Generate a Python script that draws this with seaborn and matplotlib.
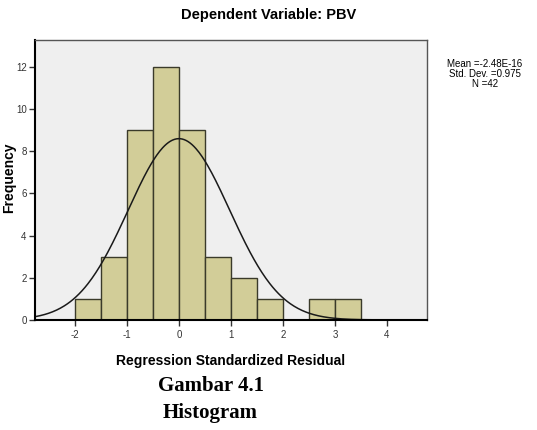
import numpy as np
import pandas as pd
import matplotlib
matplotlib.use('Agg')
import matplotlib.pyplot as plt
import seaborn as sns

# Histogram of regression standardized residuals
bin_edges = [-2.0, -1.5, -1.0, -0.5, 0.0, 0.5, 1.0, 1.5, 2.0, 2.5, 3.0, 3.5]
counts = [1, 3, 9, 12, 9, 3, 2, 1, 0, 1, 1]
resid_mean = -2.48e-16
resid_sd = 0.975
n_obs = 42
x_ticks = [-2, -1, 0, 1, 2, 3, 4]
y_ticks = [0, 2, 4, 6, 8, 10, 12]

sns.set_style('white')
plt.rcParams['font.family'] = ['Liberation Sans', 'DejaVu Sans']
plt.rcParams['text.color'] = 'black'
plt.rcParams['axes.labelcolor'] = 'black'

centers = [(a + b) / 2 for a, b in zip(bin_edges[:-1], bin_edges[1:])]
df = pd.DataFrame({'residual': centers, 'count': counts})

fig = plt.figure(figsize=(5.37, 4.30), dpi=100)
ax = fig.add_axes([0.065, 0.256, 0.730, 0.651])
ax.set_facecolor('#efefef')

sns.histplot(data=df, x='residual', weights='count', bins=bin_edges,
             color='#d2cd98', edgecolor='#3a3a2a', linewidth=1.0, alpha=1.0, ax=ax)

# fitted normal curve scaled to the counts
bw = bin_edges[1] - bin_edges[0]
xs = np.linspace(-2.77, 4.77, 400)
ys = n_obs * bw * np.exp(-0.5 * ((xs - resid_mean) / resid_sd) ** 2) / (resid_sd * np.sqrt(2 * np.pi))
sns.lineplot(x=xs, y=ys, color='#1a1a1a', linewidth=1.1, ax=ax)

ax.set_xlim(-2.77, 4.77)
ax.set_ylim(0, 13.27)
ax.set_xticks(x_ticks)
ax.set_xticklabels([str(t) for t in x_ticks])
ax.set_yticks(y_ticks)
ax.tick_params(axis='both', direction='out', length=4, width=1, labelsize=7,
               labelcolor='#333333', color='#333333', pad=2,
               bottom=True, left=True)
ax.tick_params(axis='x', pad=3)

for side in ['left', 'bottom']:
    ax.spines[side].set_color('black')
    ax.spines[side].set_linewidth(1.5)
for side in ['top', 'right']:
    ax.spines[side].set_color('#555555')
    ax.spines[side].set_linewidth(1.0)

ax.set_xlabel('Regression Standardized Residual', fontsize=10, fontweight='bold', labelpad=10)
ax.set_ylabel('')
fig.text(0.017, 0.586, 'Frequency', rotation=90, ha='center', va='center',
         fontsize=10, fontweight='bold')

fig.text(0.5, 0.965, 'Dependent Variable: PBV', ha='center', va='center',
         fontsize=10.5, fontweight='bold')

stats = f"Mean =-2.48E-16\nStd. Dev. ={resid_sd}\nN ={n_obs}"
fig.text(0.903, 0.828, stats, ha='center', va='center', fontsize=7, linespacing=1.0)

fig.text(0.392, 0.102, 'Gambar 4.1', ha='center', va='center', fontsize=15,
         fontweight='bold', family='Liberation Serif')
fig.text(0.392, 0.039, 'Histogram', ha='center', va='center', fontsize=15,
         fontweight='bold', family='Liberation Serif')

fig.savefig('out.png', dpi=100)
